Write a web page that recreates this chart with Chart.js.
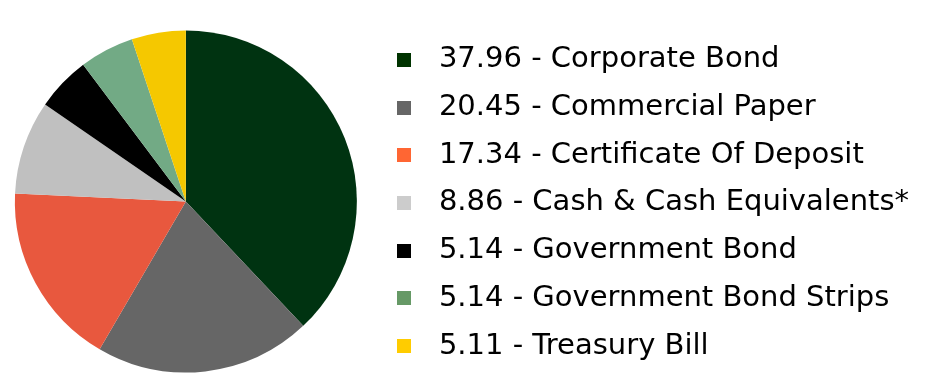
<!DOCTYPE html>
<html>
<head>
<meta charset="utf-8">
<script src="https://cdn.jsdelivr.net/npm/chart.js@4.4.1/dist/chart.umd.min.js"></script>
<style>
  html, body { margin: 0; padding: 0; background: #fff; }
  #wrap { width: 938px; height: 383px; }
</style>
</head>
<body>
<div id="wrap"><canvas id="pieChart" width="938" height="383"></canvas></div>
<script>
// holdings breakdown (%)
const categories = ['Corporate Bond', 'Commercial Paper', 'Certificate Of Deposit',
    'Cash & Cash Equivalents*', 'Government Bond', 'Government Bond Strips', 'Treasury Bill'];
const values = [37.96, 20.45, 17.34, 8.86, 5.14, 5.14, 5.11];
const sliceColors = ['#003311', '#666666', '#e8583e', '#c0c0c0', '#000000', '#72aa85', '#f5c800'];
const legendColors = ['#003300', '#666666', '#ff6633', '#cccccc', '#000000', '#669966', '#ffcc00'];

const FONT = '"DejaVu Sans", sans-serif';
const FONT_SIZE = 29;
const ROW_PAD = 18.7;

// small square swatches used as legend point styles
function swatch(color) {
    const c = document.createElement('canvas');
    c.width = 14; c.height = 14;
    const g = c.getContext('2d');
    g.fillStyle = color;
    g.fillRect(0, 0, 14, 14);
    return c;
}

const labelTexts = categories.map((name, i) => values[i].toFixed(2) + ' - ' + name);

// measure the widest legend line so the legend starts where it should
const m = document.createElement('canvas').getContext('2d');
m.font = FONT_SIZE + 'px ' + FONT;
const textW = Math.max(...labelTexts.map(t => m.measureText(t).width));
const legendLeft = 357;
const legendW = 2 * ROW_PAD + 40 + FONT_SIZE / 2 + textW;
const padRight = Math.max(0, 938 - legendLeft - legendW);

const ctx = document.getElementById('pieChart').getContext('2d');
new Chart(ctx, {
    type: 'pie',
    data: {
        labels: categories,
        datasets: [{
            data: values,
            backgroundColor: sliceColors,
            borderWidth: 0,
            radius: 171
        }]
    },
    options: {
        responsive: false,
        animation: false,
        layout: {
            padding: { left: 6, right: padRight, top: 23.8, bottom: 3.8 }
        },
        plugins: {
            tooltip: { enabled: false },
            legend: {
                position: 'right',
                align: 'end',
                maxWidth: 600,
                labels: {
                    usePointStyle: true,
                    pointStyleWidth: 40,
                    padding: ROW_PAD,
                    color: '#0a0a0a',
                    font: { family: FONT, size: FONT_SIZE },
                    generateLabels: () => labelTexts.map((text, i) => ({
                        text: text,
                        fillStyle: legendColors[i],
                        strokeStyle: legendColors[i],
                        lineWidth: 0,
                        pointStyle: swatch(legendColors[i]),
                        hidden: false,
                        index: i
                    }))
                }
            }
        }
    }
});
</script>
</body>
</html>
